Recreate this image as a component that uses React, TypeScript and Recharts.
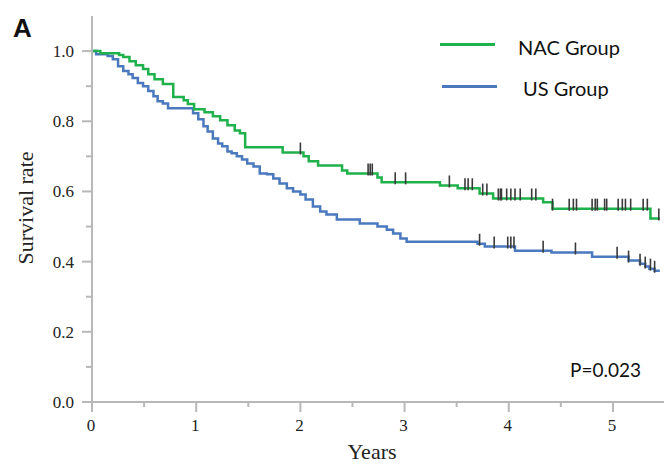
import { ComposedChart, Line, Scatter, XAxis, YAxis, Legend } from "recharts";

// Kaplan–Meier steps (years, survival)
const nacTimes = [0, 0.08, 0.26, 0.3, 0.36, 0.42, 0.49, 0.54, 0.6, 0.68, 0.78, 0.88, 0.92, 0.98, 1.08, 1.16, 1.23, 1.3, 1.37, 1.42, 1.47, 1.83, 2.03, 2.08, 2.17, 2.4, 2.45, 2.74, 2.78, 3.34, 3.51, 3.72, 3.85, 4.33, 4.42, 5.36, 5.45];
const nacSurv = [1.0, 0.994, 0.989, 0.983, 0.971, 0.96, 0.949, 0.934, 0.92, 0.906, 0.869, 0.86, 0.849, 0.834, 0.826, 0.814, 0.803, 0.789, 0.774, 0.766, 0.726, 0.711, 0.7, 0.686, 0.674, 0.66, 0.651, 0.64, 0.626, 0.617, 0.609, 0.594, 0.58, 0.569, 0.551, 0.523, 0.523];

const usTimes = [0, 0.04, 0.15, 0.2, 0.25, 0.3, 0.35, 0.39, 0.44, 0.49, 0.54, 0.59, 0.63, 0.68, 0.73, 0.97, 1.02, 1.07, 1.11, 1.16, 1.21, 1.25, 1.3, 1.34, 1.39, 1.44, 1.49, 1.55, 1.61, 1.68, 1.74, 1.8, 1.87, 1.93, 2.0, 2.05, 2.12, 2.19, 2.25, 2.35, 2.57, 2.74, 2.83, 2.89, 2.96, 3.02, 3.7, 3.77, 4.06, 4.41, 4.8, 5.15, 5.26, 5.31, 5.35, 5.4, 5.45];
const usSurv = [1.0, 0.991, 0.986, 0.977, 0.957, 0.943, 0.934, 0.923, 0.909, 0.9, 0.886, 0.871, 0.857, 0.851, 0.837, 0.823, 0.806, 0.786, 0.771, 0.751, 0.737, 0.729, 0.714, 0.709, 0.7, 0.691, 0.68, 0.671, 0.651, 0.649, 0.637, 0.623, 0.609, 0.6, 0.591, 0.577, 0.557, 0.543, 0.534, 0.52, 0.509, 0.5, 0.491, 0.48, 0.466, 0.457, 0.451, 0.443, 0.431, 0.426, 0.414, 0.403, 0.394, 0.386, 0.38, 0.374, 0.374];

// censored observations
const nacCensorT = [2.0, 2.65, 2.67, 2.69, 2.91, 3.01, 3.43, 3.58, 3.61, 3.65, 3.75, 3.79, 3.9, 3.92, 3.93, 3.98, 4.02, 4.06, 4.11, 4.22, 4.26, 4.42, 4.58, 4.62, 4.65, 4.8, 4.83, 4.85, 4.92, 4.94, 5.05, 5.09, 5.12, 5.17, 5.29, 5.33, 5.44];
const nacCensorS = [0.711, 0.651, 0.651, 0.651, 0.626, 0.626, 0.617, 0.609, 0.609, 0.609, 0.594, 0.594, 0.58, 0.58, 0.58, 0.58, 0.58, 0.58, 0.58, 0.58, 0.58, 0.551, 0.551, 0.551, 0.551, 0.551, 0.551, 0.551, 0.551, 0.551, 0.551, 0.551, 0.551, 0.551, 0.551, 0.551, 0.523];

const usCensorT = [3.72, 3.86, 3.99, 4.02, 4.05, 4.33, 4.64, 5.04, 5.15, 5.26, 5.31, 5.36, 5.4];
const usCensorS = [0.451, 0.443, 0.443, 0.443, 0.443, 0.431, 0.426, 0.414, 0.403, 0.394, 0.386, 0.38, 0.374];

const yTicks = [0, 0.1, 0.2, 0.3, 0.4, 0.5, 0.6, 0.7, 0.8, 0.9, 1.0];
const xTicks = [0, 0.5, 1, 1.5, 2, 2.5, 3, 3.5, 4, 4.5, 5];

const GREEN = "#1fb14b";
const BLUE = "#4a79bd";
const AXIS = "#b8b8b8";
const SERIF = "'Liberation Serif', 'Times New Roman', serif";
const SANS = "Lato, 'Liberation Sans', Arial, sans-serif";

const zip = (t: number[], s: number[]) => t.map((v, i) => ({ t: v, s: s[i] }));
const nacData = zip(nacTimes, nacSurv);
const usData = zip(usTimes, usSurv);
const nacCensor = zip(nacCensorT, nacCensorS);
const usCensor = zip(usCensorT, usCensorS);

const CensorMark = (p: any) => (
  <line x1={p.cx} x2={p.cx} y1={p.cy - 10} y2={p.cy + 2} stroke="#3a3a3a" strokeWidth={1.6} />
);

const YTick = ({ x, y, payload }: any) => {
  const v = payload.value;
  const major = Math.round(v * 10) % 2 === 0;
  return (
    <g>
      <line x1={x} x2={x - (major ? 10 : 6)} y1={y} y2={y} stroke={AXIS} strokeWidth={2} />
      {major && (
        <text x={x - 18} y={y + 6} textAnchor="end" fontSize={17} fontFamily={SERIF} fill="#222">
          {v.toFixed(1)}
        </text>
      )}
    </g>
  );
};

const XTick = ({ x, y, payload }: any) => {
  const v = payload.value;
  const major = Number.isInteger(v);
  return (
    <g>
      <line x1={x} x2={x} y1={y} y2={y + (major ? 10 : 5)} stroke={AXIS} strokeWidth={2} />
      {major && (
        <text x={x - 1} y={y + 29} textAnchor="middle" fontSize={17} fontFamily={SERIF} fill="#222">
          {v}
        </text>
      )}
    </g>
  );
};

const LegendBox = () => (
  <div style={{ position: "relative", width: 664, height: 110, fontFamily: SANS, fontSize: 20, color: "#111" }}>
    <div style={{ position: "absolute", left: 440, top: 43, width: 55, height: 3, background: GREEN }} />
    <div style={{ position: "absolute", left: 518, top: 34, lineHeight: "26px" }}>NAC Group</div>
    <div style={{ position: "absolute", left: 442, top: 85, width: 55, height: 3, background: BLUE }} />
    <div style={{ position: "absolute", left: 523, top: 75, lineHeight: "26px" }}>US Group</div>
  </div>
);

export default function App() {
  return (
    <div style={{ position: "absolute", left: 0, top: 0, width: 664, height: 464, background: "#fff" }}>
      <ComposedChart width={664} height={464} margin={{ top: 16, right: 0, bottom: 0, left: 0 }}>
        <XAxis
          type="number"
          dataKey="t"
          domain={[0, 5.49]}
          ticks={xTicks}
          tick={<XTick />}
          tickLine={false}
          tickSize={0}
          tickMargin={0}
          height={62}
          axisLine={{ stroke: AXIS, strokeWidth: 2 }}
          label={{
            content: () => (
              <text x={372} y={459} textAnchor="middle" fontSize={22} fontFamily={SERIF} fill="#222">
                Years
              </text>
            ),
          }}
        />
        <YAxis
          type="number"
          dataKey="s"
          domain={[0, 1.1]}
          ticks={yTicks}
          tick={<YTick />}
          tickLine={false}
          tickSize={0}
          tickMargin={0}
          width={92}
          axisLine={{ stroke: AXIS, strokeWidth: 2 }}
          label={{
            content: () => (
              <text
                x={33}
                y={208}
                transform="rotate(-90 33 208)"
                textAnchor="middle"
                fontSize={22}
                fontFamily={SERIF}
                fill="#222"
              >
                Survival rate
              </text>
            ),
          }}
        />
        <Legend
          layout="vertical"
          align="center"
          verticalAlign="middle"
          content={<LegendBox />}
          wrapperStyle={{ top: 0, left: 0, width: 664 }}
        />
        <Line data={usData} dataKey="s" name="US Group" type="stepAfter" stroke={BLUE} strokeWidth={2.5} dot={false} isAnimationActive={false} />
        <Line data={nacData} dataKey="s" name="NAC Group" type="stepAfter" stroke={GREEN} strokeWidth={2.5} dot={false} isAnimationActive={false} />
        <Scatter data={nacCensor} dataKey="s" shape={CensorMark} isAnimationActive={false} legendType="none" />
        <Scatter data={usCensor} dataKey="s" shape={CensorMark} isAnimationActive={false} legendType="none" />
      </ComposedChart>
      <div style={{ position: "absolute", left: 13, top: 13, fontFamily: "'Liberation Sans', Arial, sans-serif", fontWeight: 700, fontSize: 26, lineHeight: "30px", color: "#111" }}>
        A
      </div>
      <div style={{ position: "absolute", left: 570, top: 357, fontFamily: SANS, fontSize: 19, lineHeight: "26px", color: "#111" }}>
        P=0.023
      </div>
    </div>
  );
}
